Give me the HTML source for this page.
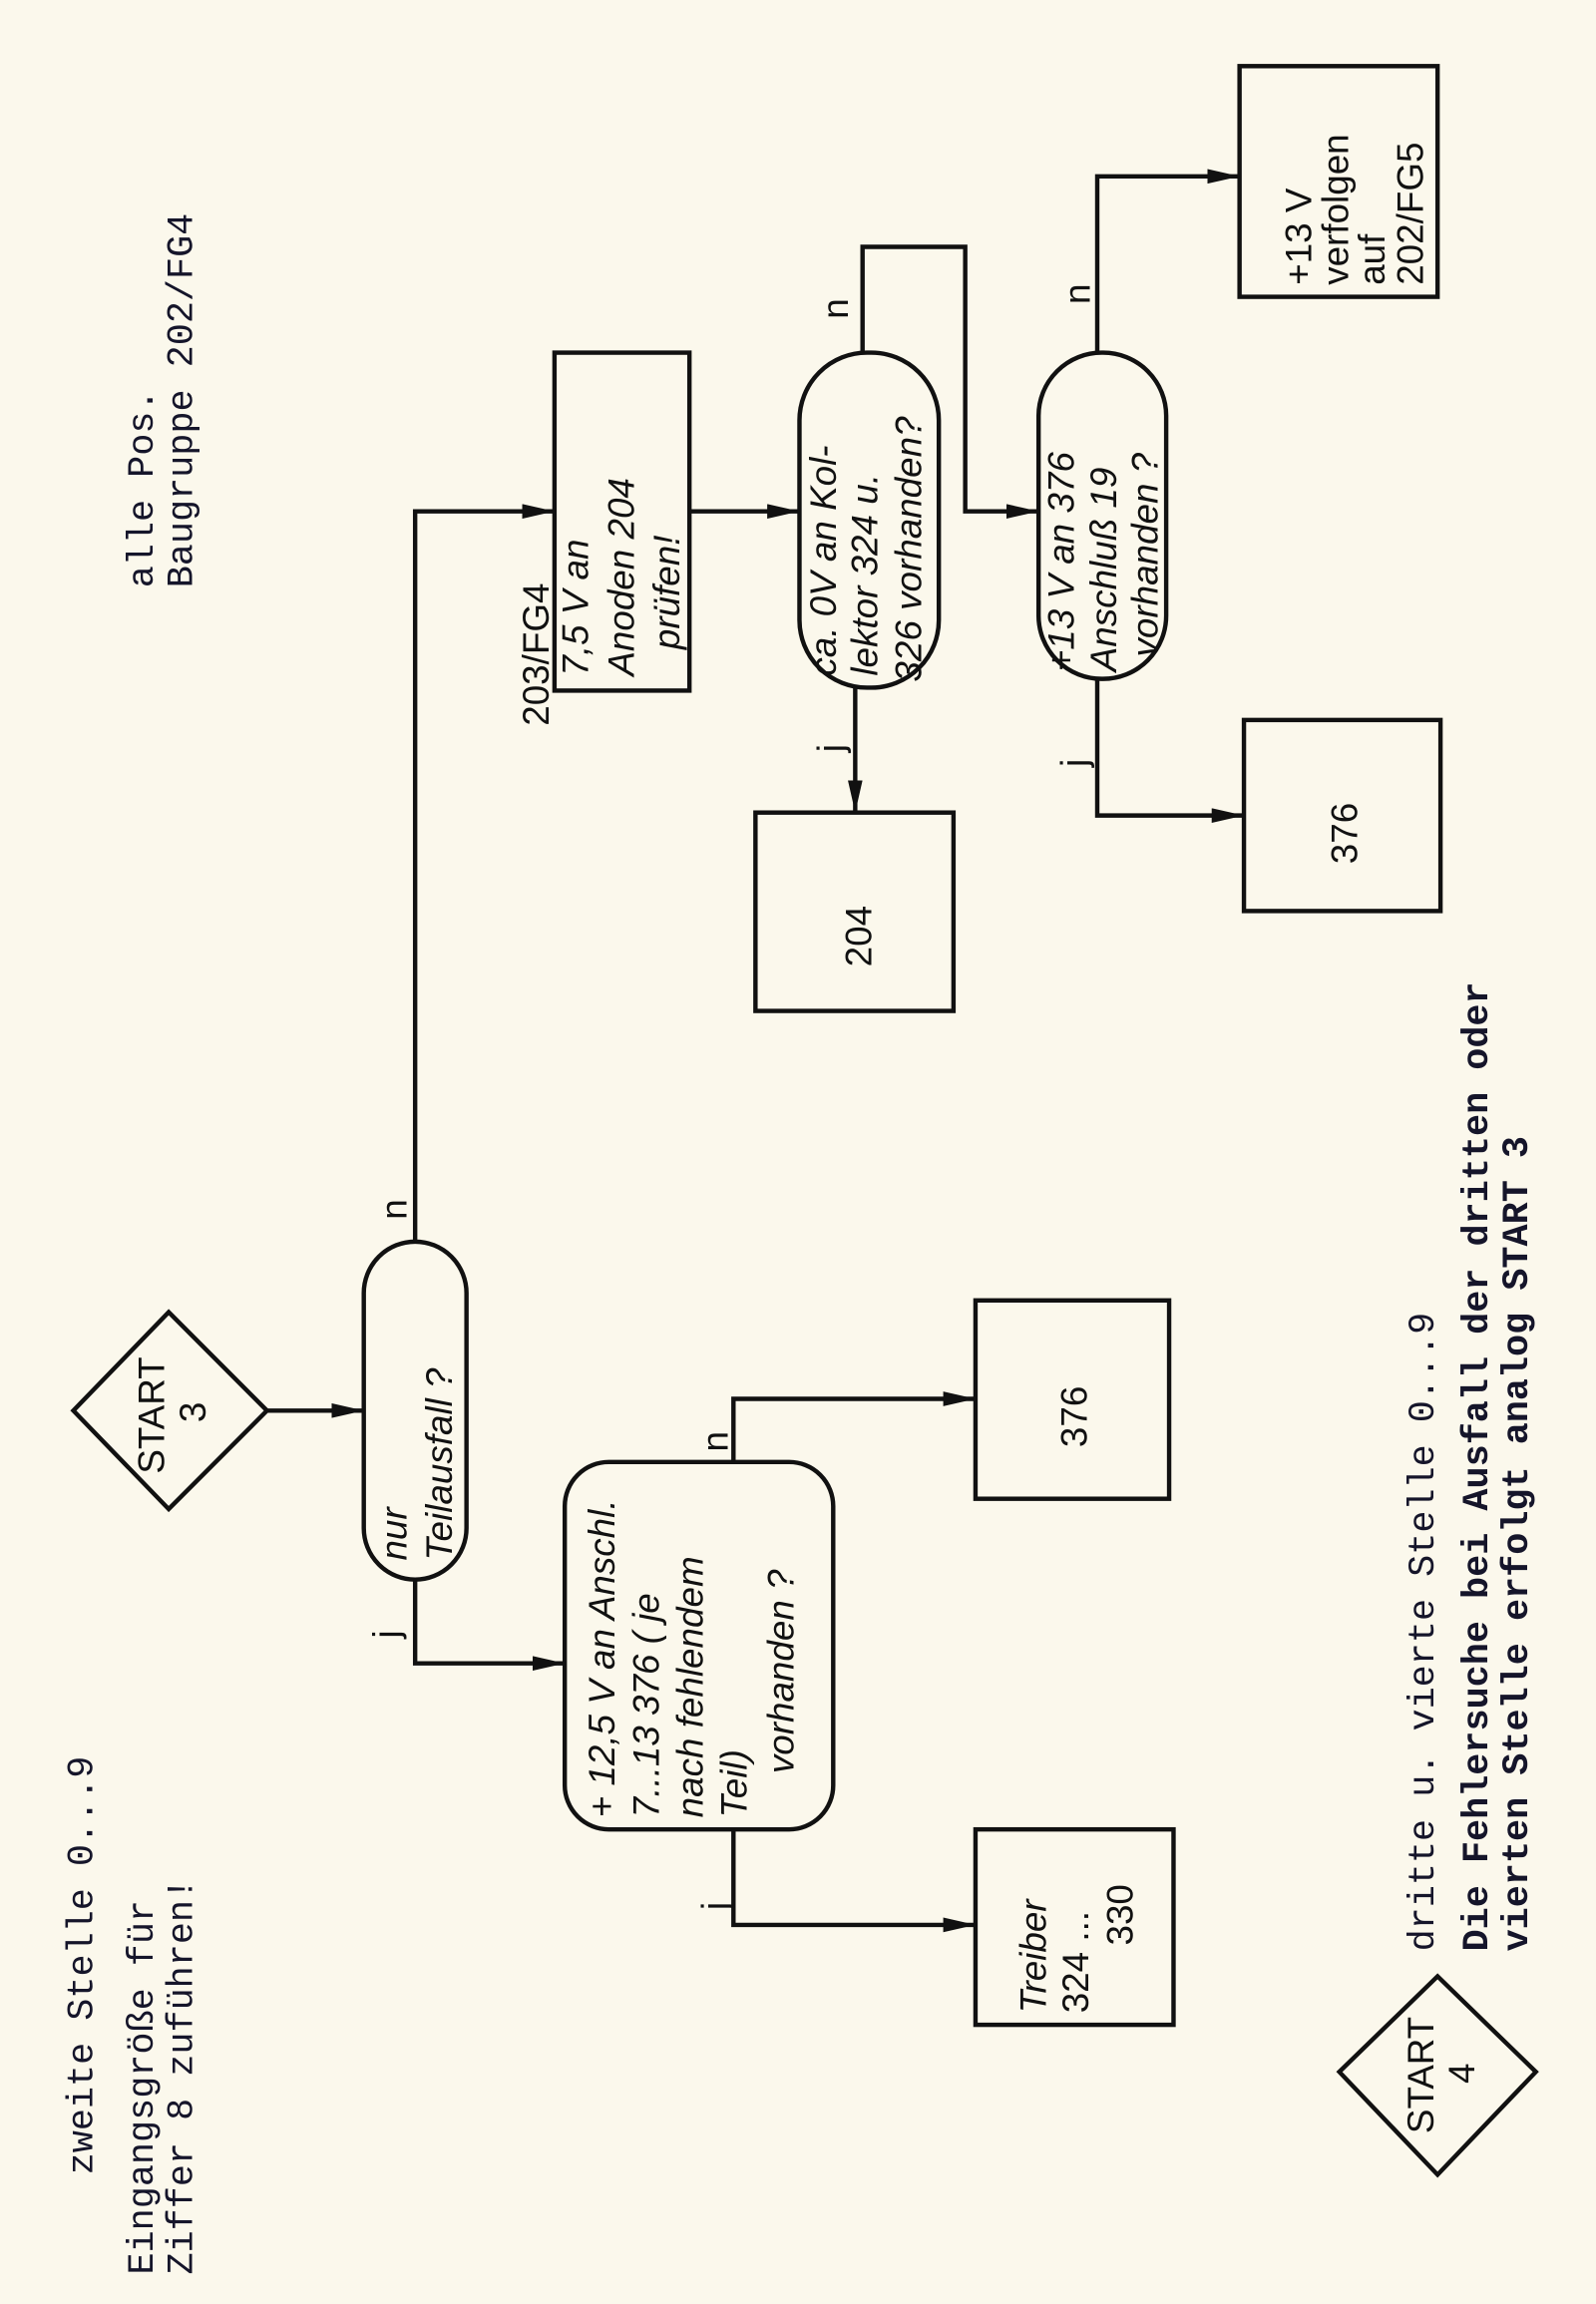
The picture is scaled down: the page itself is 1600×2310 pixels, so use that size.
<!DOCTYPE html>
<html><head><meta charset="utf-8">
<style>
html,body{margin:0;padding:0;background:#fbf8ec;}
svg{display:block;}
.m{font-family:"Liberation Mono",monospace;font-size:25px;fill:#15152a;}
.mb{font-family:"Liberation Mono",monospace;font-size:25px;fill:#15152a;font-weight:bold;}
.s{font-family:"Liberation Sans",sans-serif;font-size:25px;fill:#111;}
</style></head>
<body>
<svg width="1600" height="2310" viewBox="0 0 1088 1568" preserveAspectRatio="none" xmlns="http://www.w3.org/2000/svg">
<defs>
<marker id="b" viewBox="0 0 22 10" refX="22" refY="5" markerWidth="22" markerHeight="10" orient="auto" markerUnits="userSpaceOnUse">
<path d="M0,0 L22,5 L0,10 z" fill="#111"/></marker>
</defs>
<rect width="1088" height="1568" fill="#fbf8ec"/>
<g fill="none" stroke="#111" stroke-width="3">
<polygon points="50,960 115,893 182,960 115,1027"/>
<line x1="182" y1="960" x2="248" y2="960" marker-end="url(#b)"/>
<rect x="248" y="845" width="70" height="230" rx="35"/>
<polyline points="283,845 283,348 378,348" marker-end="url(#b)"/>
<polyline points="283,1075 283,1132 385,1132" marker-end="url(#b)"/>
<rect x="385" y="995" width="183" height="250" rx="30"/>
<polyline points="500,995 500,952 665,952" marker-end="url(#b)"/>
<rect x="665" y="885" width="132" height="135"/>
<polyline points="500,1245 500,1310 665,1310" marker-end="url(#b)"/>
<rect x="665" y="1245" width="135" height="133"/>
<rect x="378" y="240" width="92" height="230"/>
<line x1="470" y1="348" x2="545" y2="348" marker-end="url(#b)"/>
<rect x="545" y="240" width="95" height="228" rx="46"/>
<line x1="583" y1="468" x2="583" y2="553" marker-end="url(#b)"/>
<rect x="515" y="553" width="135" height="135"/>
<polyline points="588,240 588,168 658,168 658,348 708,348" marker-end="url(#b)"/>
<rect x="708" y="240" width="87" height="222" rx="43"/>
<polyline points="748,240 748,120 845,120" marker-end="url(#b)"/>
<rect x="845" y="45" width="135" height="157"/>
<polyline points="748,462 748,555 848,555" marker-end="url(#b)"/>
<rect x="848" y="490" width="134" height="130"/>
<polygon points="913,1410 980,1345 1047,1410 980,1480"/>
</g>
<text class="m" transform="translate(104,400) rotate(-90)">alle Pos.</text>
<text class="m" transform="translate(131,400) rotate(-90)">Baugruppe 202/FG4</text>
<text class="m" transform="translate(63,1480) rotate(-90)">zweite Stelle 0...9</text>
<text class="m" transform="translate(104,1548) rotate(-90)">Eingangsgröße für</text>
<text class="m" transform="translate(131,1548) rotate(-90)">Ziffer 8 zuführen!</text>
<text class="m" transform="translate(977,1328) rotate(-90)">dritte u. vierte Stelle 0...9</text>
<text class="mb" transform="translate(1014,1328) rotate(-90)">Die Fehlersuche bei Ausfall der dritten oder</text>
<text class="mb" transform="translate(1041,1328) rotate(-90)">vierten Stelle erfolgt analog START 3</text>
<text class="s" transform="translate(112,1003) rotate(-90)">START</text>
<text class="s" transform="translate(140,968) rotate(-90)">3</text>
<text class="s" transform="translate(977,1452) rotate(-90)">START</text>
<text class="s" transform="translate(1005,1418) rotate(-90)">4</text>
<text class="s" font-style="italic" transform="translate(277,1062) rotate(-90)">nur</text>
<text class="s" font-style="italic" transform="translate(308,1062) rotate(-90)">Teilausfall ?</text>
<text class="s" transform="translate(277,830) rotate(-90)">n</text>
<text class="s" transform="translate(272,1115) rotate(-90)">j</text>
<text class="s" font-style="italic" transform="translate(419,1237) rotate(-90)">+ 12,5 V an Anschl.</text>
<text class="s" font-style="italic" transform="translate(449,1237) rotate(-90)">7...13   376 ( je</text>
<text class="s" font-style="italic" transform="translate(479,1237) rotate(-90)">nach  fehlendem</text>
<text class="s" font-style="italic" transform="translate(509,1237) rotate(-90)">Teil)</text>
<text class="s" font-style="italic" transform="translate(541,1207) rotate(-90)">vorhanden ?</text>
<text class="s" transform="translate(496,988) rotate(-90)">n</text>
<text class="s" transform="translate(496,1300) rotate(-90)">j</text>
<text class="s" transform="translate(741,985) rotate(-90)">376</text>
<text class="s" font-style="italic" transform="translate(713,1370) rotate(-90)">Treiber</text>
<text class="s" transform="translate(742,1370) rotate(-90)">324 ...</text>
<text class="s" transform="translate(772,1324) rotate(-90)">330</text>
<text class="s" transform="translate(374,494) rotate(-90)">203/FG4</text>
<text class="s" font-style="italic" transform="translate(401,460) rotate(-90)">7,5 V an</text>
<text class="s" font-style="italic" transform="translate(432,460) rotate(-90)">Anoden 204</text>
<text class="s" font-style="italic" transform="translate(463,442) rotate(-90)">prüfen!</text>
<text class="s" font-style="italic" transform="translate(570,460) rotate(-90)">ca. 0V an Kol-</text>
<text class="s" font-style="italic" transform="translate(598,460) rotate(-90)">lektor 324 u.</text>
<text class="s" font-style="italic" transform="translate(628,464) rotate(-90)">326 vorhanden?</text>
<text class="s" transform="translate(578,217) rotate(-90)">n</text>
<text class="s" transform="translate(575,512) rotate(-90)">j</text>
<text class="s" transform="translate(594,658) rotate(-90)">204</text>
<text class="s" font-style="italic" transform="translate(732,457) rotate(-90)">+13 V an 376</text>
<text class="s" font-style="italic" transform="translate(761,457) rotate(-90)">Anschluß 19</text>
<text class="s" font-style="italic" transform="translate(789,447) rotate(-90)">vorhanden ?</text>
<text class="s" transform="translate(743,207) rotate(-90)">n</text>
<text class="s" transform="translate(741,522) rotate(-90)">j</text>
<text class="s" transform="translate(925,588) rotate(-90)">376</text>
<text class="s" transform="translate(894,194) rotate(-90)">+13 V</text>
<text class="s" transform="translate(919,194) rotate(-90)">verfolgen</text>
<text class="s" transform="translate(944,194) rotate(-90)">auf</text>
<text class="s" transform="translate(970,194) rotate(-90)">202/FG5</text>
</svg>
</body></html>
